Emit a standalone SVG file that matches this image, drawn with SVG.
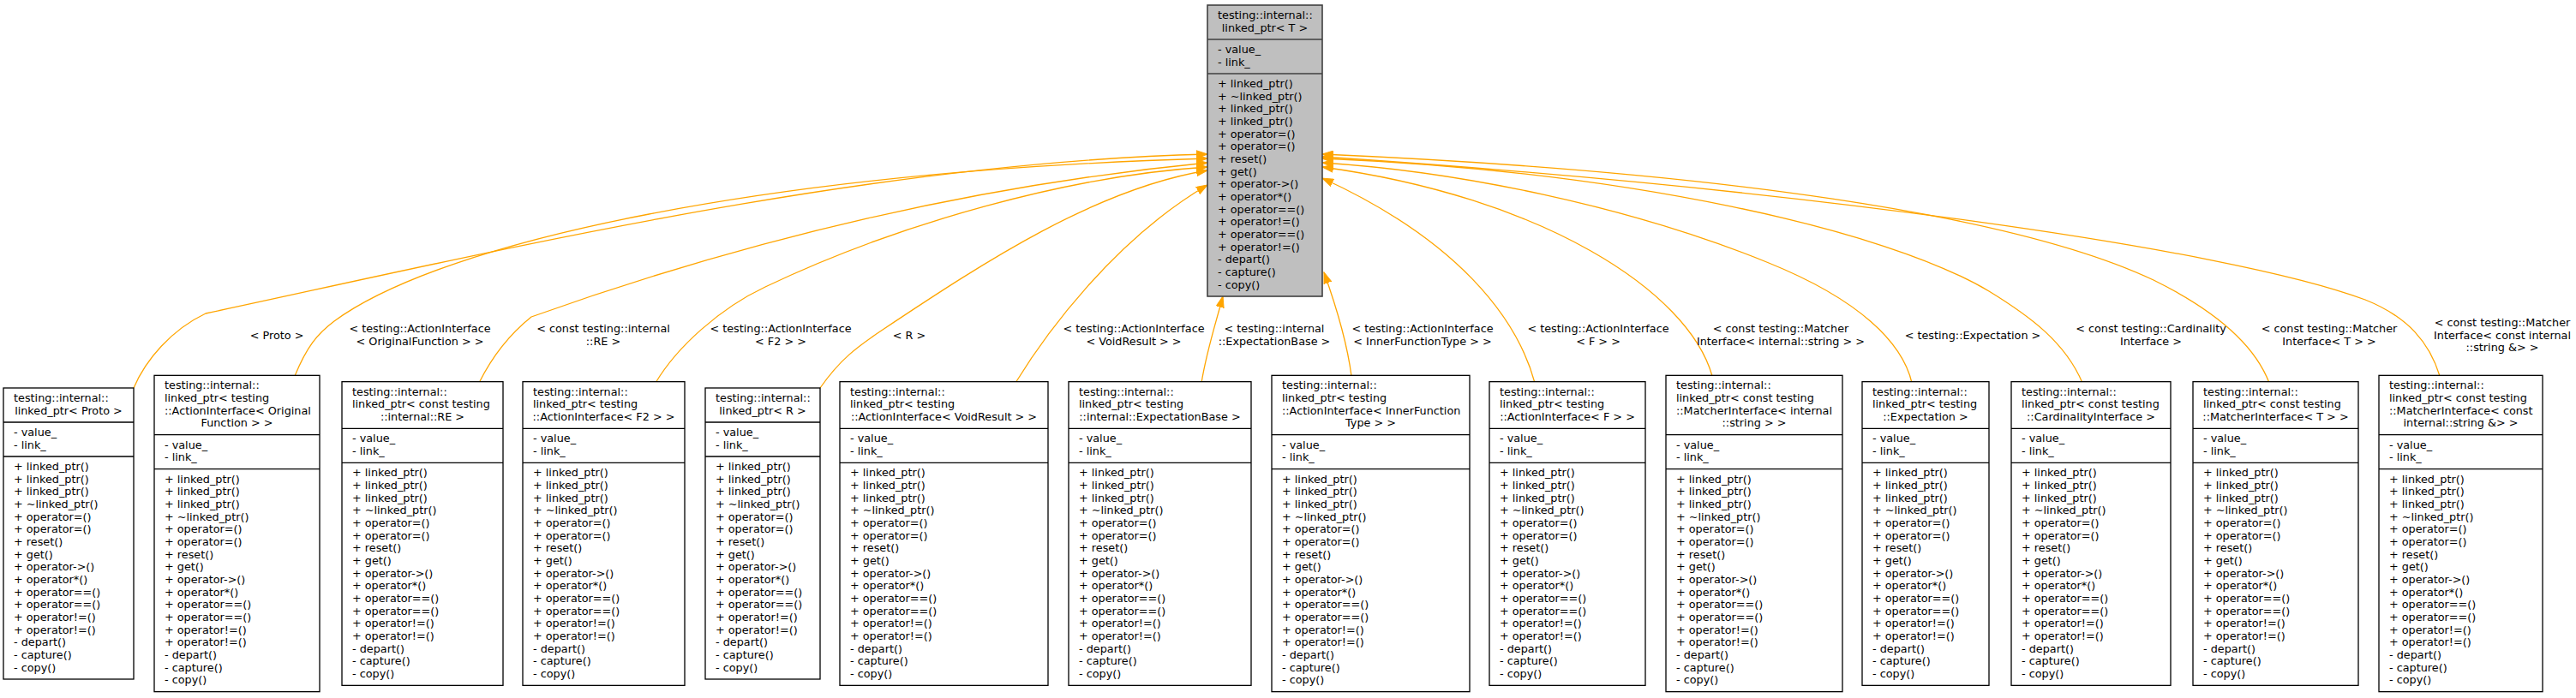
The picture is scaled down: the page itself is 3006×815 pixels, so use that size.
<svg xmlns="http://www.w3.org/2000/svg" width="3006" height="815" viewBox="0 0 3006 815">
<style>
text{font-family:"DejaVu Sans","Liberation Sans",sans-serif;font-size:12.8px;fill:#000}
.c{text-anchor:middle}
.box{fill:#fff;stroke:#000;stroke-width:1.3}
.rbox{fill:#bfbfbf;stroke:#404040;stroke-width:1.6}
.sep{stroke:#000;stroke-width:1.3;fill:none}
.rsep{stroke:#404040;stroke-width:1.6;fill:none}
.e{fill:none;stroke:#ffa500;stroke-width:1.3;marker-end:url(#ah)}
</style>
<defs>
<marker id="ah" viewBox="0 0 14 10" refX="13" refY="5" markerWidth="14" markerHeight="10" markerUnits="userSpaceOnUse" orient="auto">
<path d="M0,0.4L13,5L0,9.6z" fill="#ffa500" stroke="#ffa500" stroke-width="1"/>
</marker>
</defs>
<rect width="3006" height="815" fill="#fff"/>

<g id="edges">
<path class="e" d="M156,453C170,420 200,385 240,366C550,300 1000,190 1409,180"/>
<path class="e" d="M344,439C358,405 370,390 390,375C520,280 900,200 1409,185"/>
<path class="e" d="M559,447C575,415 595,390 620,370C760,320 1050,225 1409,190"/>
<path class="e" d="M765,447C790,405 840,360 893,335C1050,260 1250,205 1409,195"/>
<path class="e" d="M957,453C980,420 1000,405 1030,385C1150,305 1280,220 1409,199"/>
<path class="e" d="M1185,447C1220,390 1300,280 1409,216"/>
<path class="e" d="M1402,447C1408,410 1418,380 1427,346"/>
<path class="e" d="M1577,439C1572,400 1560,360 1545,318"/>
<path class="e" d="M1791,447C1770,370 1700,280 1543,208"/>
<path class="e" d="M1998,439C1970,340 1800,230 1543,195"/>
<path class="e" d="M2231,447C2220,400 2170,350 2064,307C1900,240 1700,200 1543,190"/>
<path class="e" d="M2430,447C2410,400 2370,370 2321,340C2200,268 1900,200 1543,185"/>
<path class="e" d="M2648,447C2630,400 2580,360 2513,327C2350,250 2000,200 1543,180"/>
<path class="e" d="M2847,439C2835,400 2810,370 2760,350C2600,290 2100,220 1543,183"/>
<text class="c" x="323" y="396">&lt; Proto &gt;</text>
<text class="c" x="490" y="388">&lt; testing::ActionInterface<tspan x="490" dy="14.67">&lt; OriginalFunction &gt; &gt;</tspan></text>
<text class="c" x="704" y="388">&lt; const testing::internal<tspan x="704" dy="14.67">::RE &gt;</tspan></text>
<text class="c" x="911" y="388">&lt; testing::ActionInterface<tspan x="911" dy="14.67">&lt; F2 &gt; &gt;</tspan></text>
<text class="c" x="1061" y="396">&lt; R &gt;</text>
<text class="c" x="1323" y="388">&lt; testing::ActionInterface<tspan x="1323" dy="14.67">&lt; VoidResult &gt; &gt;</tspan></text>
<text class="c" x="1487" y="388">&lt; testing::internal<tspan x="1487" dy="14.67">::ExpectationBase &gt;</tspan></text>
<text class="c" x="1660" y="388">&lt; testing::ActionInterface<tspan x="1660" dy="14.67">&lt; InnerFunctionType &gt; &gt;</tspan></text>
<text class="c" x="1865" y="388">&lt; testing::ActionInterface<tspan x="1865" dy="14.67">&lt; F &gt; &gt;</tspan></text>
<text class="c" x="2078" y="388">&lt; const testing::Matcher<tspan x="2078" dy="14.67">Interface&lt; internal::string &gt; &gt;</tspan></text>
<text class="c" x="2302" y="396">&lt; testing::Expectation &gt;</text>
<text class="c" x="2510" y="388">&lt; const testing::Cardinality<tspan x="2510" dy="14.67">Interface &gt;</tspan></text>
<text class="c" x="2718" y="388">&lt; const testing::Matcher<tspan x="2718" dy="14.67">Interface&lt; T &gt; &gt;</tspan></text>
<text class="c" x="2920" y="381">&lt; const testing::Matcher<tspan x="2920" dy="14.67">Interface&lt; const internal</tspan><tspan x="2920" dy="14.67">::string &amp;&gt; &gt;</tspan></text>
</g>

<g id="root" transform="translate(1409,6)">
<rect class="rbox" width="134" height="340"/>
<path class="rsep" d="M0,40H134M0,80H134"/>
<text x="12" y="16">testing::internal::<tspan class="c" x="67" dy="14.67">linked_ptr&lt; T &gt;</tspan></text>
<text x="12" y="56">- value_<tspan x="12" dy="14.67">- link_</tspan></text>
<text x="12" y="96">+ linked_ptr()<tspan x="12" dy="14.67">+ ~linked_ptr()</tspan><tspan x="12" dy="14.67">+ linked_ptr()</tspan><tspan x="12" dy="14.67">+ linked_ptr()</tspan><tspan x="12" dy="14.67">+ operator=()</tspan><tspan x="12" dy="14.67">+ operator=()</tspan><tspan x="12" dy="14.67">+ reset()</tspan><tspan x="12" dy="14.67">+ get()</tspan><tspan x="12" dy="14.67">+ operator-&gt;()</tspan><tspan x="12" dy="14.67">+ operator*()</tspan><tspan x="12" dy="14.67">+ operator==()</tspan><tspan x="12" dy="14.67">+ operator!=()</tspan><tspan x="12" dy="14.67">+ operator==()</tspan><tspan x="12" dy="14.67">+ operator!=()</tspan><tspan x="12" dy="14.67">- depart()</tspan><tspan x="12" dy="14.67">- capture()</tspan><tspan x="12" dy="14.67">- copy()</tspan></text>
</g>

<g id="n1" transform="translate(4,453)">
<rect class="box" width="152" height="340"/>
<path class="sep" d="M0,40H152M0,80H152"/>
<text x="12" y="16">testing::internal::<tspan class="c" x="76" dy="14.67">linked_ptr&lt; Proto &gt;</tspan></text>
<text x="12" y="56">- value_<tspan x="12" dy="14.67">- link_</tspan></text>
<text x="12" y="96">+ linked_ptr()<tspan x="12" dy="14.67">+ linked_ptr()</tspan><tspan x="12" dy="14.67">+ linked_ptr()</tspan><tspan x="12" dy="14.67">+ ~linked_ptr()</tspan><tspan x="12" dy="14.67">+ operator=()</tspan><tspan x="12" dy="14.67">+ operator=()</tspan><tspan x="12" dy="14.67">+ reset()</tspan><tspan x="12" dy="14.67">+ get()</tspan><tspan x="12" dy="14.67">+ operator-&gt;()</tspan><tspan x="12" dy="14.67">+ operator*()</tspan><tspan x="12" dy="14.67">+ operator==()</tspan><tspan x="12" dy="14.67">+ operator==()</tspan><tspan x="12" dy="14.67">+ operator!=()</tspan><tspan x="12" dy="14.67">+ operator!=()</tspan><tspan x="12" dy="14.67">- depart()</tspan><tspan x="12" dy="14.67">- capture()</tspan><tspan x="12" dy="14.67">- copy()</tspan></text>
</g>

<g id="n2" transform="translate(180,438.33)">
<rect class="box" width="193" height="369.33"/>
<path class="sep" d="M0,69.33H193M0,109.33H193"/>
<text x="12" y="16">testing::internal::<tspan x="12" dy="14.67">linked_ptr&lt; testing</tspan><tspan x="12" dy="14.67">::ActionInterface&lt; Original</tspan><tspan class="c" x="96.5" dy="14.67">Function &gt; &gt;</tspan></text>
<text x="12" y="85.33">- value_<tspan x="12" dy="14.67">- link_</tspan></text>
<text x="12" y="125.33">+ linked_ptr()<tspan x="12" dy="14.67">+ linked_ptr()</tspan><tspan x="12" dy="14.67">+ linked_ptr()</tspan><tspan x="12" dy="14.67">+ ~linked_ptr()</tspan><tspan x="12" dy="14.67">+ operator=()</tspan><tspan x="12" dy="14.67">+ operator=()</tspan><tspan x="12" dy="14.67">+ reset()</tspan><tspan x="12" dy="14.67">+ get()</tspan><tspan x="12" dy="14.67">+ operator-&gt;()</tspan><tspan x="12" dy="14.67">+ operator*()</tspan><tspan x="12" dy="14.67">+ operator==()</tspan><tspan x="12" dy="14.67">+ operator==()</tspan><tspan x="12" dy="14.67">+ operator!=()</tspan><tspan x="12" dy="14.67">+ operator!=()</tspan><tspan x="12" dy="14.67">- depart()</tspan><tspan x="12" dy="14.67">- capture()</tspan><tspan x="12" dy="14.67">- copy()</tspan></text>
</g>

<g id="n3" transform="translate(399,445.67)">
<rect class="box" width="188" height="354.67"/>
<path class="sep" d="M0,54.67H188M0,94.67H188"/>
<text x="12" y="16">testing::internal::<tspan x="12" dy="14.67">linked_ptr&lt; const testing</tspan><tspan class="c" x="94" dy="14.67">::internal::RE &gt;</tspan></text>
<text x="12" y="70.67">- value_<tspan x="12" dy="14.67">- link_</tspan></text>
<text x="12" y="110.67">+ linked_ptr()<tspan x="12" dy="14.67">+ linked_ptr()</tspan><tspan x="12" dy="14.67">+ linked_ptr()</tspan><tspan x="12" dy="14.67">+ ~linked_ptr()</tspan><tspan x="12" dy="14.67">+ operator=()</tspan><tspan x="12" dy="14.67">+ operator=()</tspan><tspan x="12" dy="14.67">+ reset()</tspan><tspan x="12" dy="14.67">+ get()</tspan><tspan x="12" dy="14.67">+ operator-&gt;()</tspan><tspan x="12" dy="14.67">+ operator*()</tspan><tspan x="12" dy="14.67">+ operator==()</tspan><tspan x="12" dy="14.67">+ operator==()</tspan><tspan x="12" dy="14.67">+ operator!=()</tspan><tspan x="12" dy="14.67">+ operator!=()</tspan><tspan x="12" dy="14.67">- depart()</tspan><tspan x="12" dy="14.67">- capture()</tspan><tspan x="12" dy="14.67">- copy()</tspan></text>
</g>

<g id="n4" transform="translate(610,445.67)">
<rect class="box" width="189" height="354.67"/>
<path class="sep" d="M0,54.67H189M0,94.67H189"/>
<text x="12" y="16">testing::internal::<tspan x="12" dy="14.67">linked_ptr&lt; testing</tspan><tspan class="c" x="94.5" dy="14.67">::ActionInterface&lt; F2 &gt; &gt;</tspan></text>
<text x="12" y="70.67">- value_<tspan x="12" dy="14.67">- link_</tspan></text>
<text x="12" y="110.67">+ linked_ptr()<tspan x="12" dy="14.67">+ linked_ptr()</tspan><tspan x="12" dy="14.67">+ linked_ptr()</tspan><tspan x="12" dy="14.67">+ ~linked_ptr()</tspan><tspan x="12" dy="14.67">+ operator=()</tspan><tspan x="12" dy="14.67">+ operator=()</tspan><tspan x="12" dy="14.67">+ reset()</tspan><tspan x="12" dy="14.67">+ get()</tspan><tspan x="12" dy="14.67">+ operator-&gt;()</tspan><tspan x="12" dy="14.67">+ operator*()</tspan><tspan x="12" dy="14.67">+ operator==()</tspan><tspan x="12" dy="14.67">+ operator==()</tspan><tspan x="12" dy="14.67">+ operator!=()</tspan><tspan x="12" dy="14.67">+ operator!=()</tspan><tspan x="12" dy="14.67">- depart()</tspan><tspan x="12" dy="14.67">- capture()</tspan><tspan x="12" dy="14.67">- copy()</tspan></text>
</g>

<g id="n5" transform="translate(823,453)">
<rect class="box" width="134" height="340"/>
<path class="sep" d="M0,40H134M0,80H134"/>
<text x="12" y="16">testing::internal::<tspan class="c" x="67" dy="14.67">linked_ptr&lt; R &gt;</tspan></text>
<text x="12" y="56">- value_<tspan x="12" dy="14.67">- link_</tspan></text>
<text x="12" y="96">+ linked_ptr()<tspan x="12" dy="14.67">+ linked_ptr()</tspan><tspan x="12" dy="14.67">+ linked_ptr()</tspan><tspan x="12" dy="14.67">+ ~linked_ptr()</tspan><tspan x="12" dy="14.67">+ operator=()</tspan><tspan x="12" dy="14.67">+ operator=()</tspan><tspan x="12" dy="14.67">+ reset()</tspan><tspan x="12" dy="14.67">+ get()</tspan><tspan x="12" dy="14.67">+ operator-&gt;()</tspan><tspan x="12" dy="14.67">+ operator*()</tspan><tspan x="12" dy="14.67">+ operator==()</tspan><tspan x="12" dy="14.67">+ operator==()</tspan><tspan x="12" dy="14.67">+ operator!=()</tspan><tspan x="12" dy="14.67">+ operator!=()</tspan><tspan x="12" dy="14.67">- depart()</tspan><tspan x="12" dy="14.67">- capture()</tspan><tspan x="12" dy="14.67">- copy()</tspan></text>
</g>

<g id="n6" transform="translate(980,445.67)">
<rect class="box" width="243" height="354.67"/>
<path class="sep" d="M0,54.67H243M0,94.67H243"/>
<text x="12" y="16">testing::internal::<tspan x="12" dy="14.67">linked_ptr&lt; testing</tspan><tspan class="c" x="121.5" dy="14.67">::ActionInterface&lt; VoidResult &gt; &gt;</tspan></text>
<text x="12" y="70.67">- value_<tspan x="12" dy="14.67">- link_</tspan></text>
<text x="12" y="110.67">+ linked_ptr()<tspan x="12" dy="14.67">+ linked_ptr()</tspan><tspan x="12" dy="14.67">+ linked_ptr()</tspan><tspan x="12" dy="14.67">+ ~linked_ptr()</tspan><tspan x="12" dy="14.67">+ operator=()</tspan><tspan x="12" dy="14.67">+ operator=()</tspan><tspan x="12" dy="14.67">+ reset()</tspan><tspan x="12" dy="14.67">+ get()</tspan><tspan x="12" dy="14.67">+ operator-&gt;()</tspan><tspan x="12" dy="14.67">+ operator*()</tspan><tspan x="12" dy="14.67">+ operator==()</tspan><tspan x="12" dy="14.67">+ operator==()</tspan><tspan x="12" dy="14.67">+ operator!=()</tspan><tspan x="12" dy="14.67">+ operator!=()</tspan><tspan x="12" dy="14.67">- depart()</tspan><tspan x="12" dy="14.67">- capture()</tspan><tspan x="12" dy="14.67">- copy()</tspan></text>
</g>

<g id="n7" transform="translate(1247,445.67)">
<rect class="box" width="213" height="354.67"/>
<path class="sep" d="M0,54.67H213M0,94.67H213"/>
<text x="12" y="16">testing::internal::<tspan x="12" dy="14.67">linked_ptr&lt; testing</tspan><tspan class="c" x="106.5" dy="14.67">::internal::ExpectationBase &gt;</tspan></text>
<text x="12" y="70.67">- value_<tspan x="12" dy="14.67">- link_</tspan></text>
<text x="12" y="110.67">+ linked_ptr()<tspan x="12" dy="14.67">+ linked_ptr()</tspan><tspan x="12" dy="14.67">+ linked_ptr()</tspan><tspan x="12" dy="14.67">+ ~linked_ptr()</tspan><tspan x="12" dy="14.67">+ operator=()</tspan><tspan x="12" dy="14.67">+ operator=()</tspan><tspan x="12" dy="14.67">+ reset()</tspan><tspan x="12" dy="14.67">+ get()</tspan><tspan x="12" dy="14.67">+ operator-&gt;()</tspan><tspan x="12" dy="14.67">+ operator*()</tspan><tspan x="12" dy="14.67">+ operator==()</tspan><tspan x="12" dy="14.67">+ operator==()</tspan><tspan x="12" dy="14.67">+ operator!=()</tspan><tspan x="12" dy="14.67">+ operator!=()</tspan><tspan x="12" dy="14.67">- depart()</tspan><tspan x="12" dy="14.67">- capture()</tspan><tspan x="12" dy="14.67">- copy()</tspan></text>
</g>

<g id="n8" transform="translate(1484,438.33)">
<rect class="box" width="231" height="369.33"/>
<path class="sep" d="M0,69.33H231M0,109.33H231"/>
<text x="12" y="16">testing::internal::<tspan x="12" dy="14.67">linked_ptr&lt; testing</tspan><tspan x="12" dy="14.67">::ActionInterface&lt; InnerFunction</tspan><tspan class="c" x="115.5" dy="14.67">Type &gt; &gt;</tspan></text>
<text x="12" y="85.33">- value_<tspan x="12" dy="14.67">- link_</tspan></text>
<text x="12" y="125.33">+ linked_ptr()<tspan x="12" dy="14.67">+ linked_ptr()</tspan><tspan x="12" dy="14.67">+ linked_ptr()</tspan><tspan x="12" dy="14.67">+ ~linked_ptr()</tspan><tspan x="12" dy="14.67">+ operator=()</tspan><tspan x="12" dy="14.67">+ operator=()</tspan><tspan x="12" dy="14.67">+ reset()</tspan><tspan x="12" dy="14.67">+ get()</tspan><tspan x="12" dy="14.67">+ operator-&gt;()</tspan><tspan x="12" dy="14.67">+ operator*()</tspan><tspan x="12" dy="14.67">+ operator==()</tspan><tspan x="12" dy="14.67">+ operator==()</tspan><tspan x="12" dy="14.67">+ operator!=()</tspan><tspan x="12" dy="14.67">+ operator!=()</tspan><tspan x="12" dy="14.67">- depart()</tspan><tspan x="12" dy="14.67">- capture()</tspan><tspan x="12" dy="14.67">- copy()</tspan></text>
</g>

<g id="n9" transform="translate(1738,445.67)">
<rect class="box" width="182" height="354.67"/>
<path class="sep" d="M0,54.67H182M0,94.67H182"/>
<text x="12" y="16">testing::internal::<tspan x="12" dy="14.67">linked_ptr&lt; testing</tspan><tspan class="c" x="91" dy="14.67">::ActionInterface&lt; F &gt; &gt;</tspan></text>
<text x="12" y="70.67">- value_<tspan x="12" dy="14.67">- link_</tspan></text>
<text x="12" y="110.67">+ linked_ptr()<tspan x="12" dy="14.67">+ linked_ptr()</tspan><tspan x="12" dy="14.67">+ linked_ptr()</tspan><tspan x="12" dy="14.67">+ ~linked_ptr()</tspan><tspan x="12" dy="14.67">+ operator=()</tspan><tspan x="12" dy="14.67">+ operator=()</tspan><tspan x="12" dy="14.67">+ reset()</tspan><tspan x="12" dy="14.67">+ get()</tspan><tspan x="12" dy="14.67">+ operator-&gt;()</tspan><tspan x="12" dy="14.67">+ operator*()</tspan><tspan x="12" dy="14.67">+ operator==()</tspan><tspan x="12" dy="14.67">+ operator==()</tspan><tspan x="12" dy="14.67">+ operator!=()</tspan><tspan x="12" dy="14.67">+ operator!=()</tspan><tspan x="12" dy="14.67">- depart()</tspan><tspan x="12" dy="14.67">- capture()</tspan><tspan x="12" dy="14.67">- copy()</tspan></text>
</g>

<g id="n10" transform="translate(1944,438.33)">
<rect class="box" width="206" height="369.33"/>
<path class="sep" d="M0,69.33H206M0,109.33H206"/>
<text x="12" y="16">testing::internal::<tspan x="12" dy="14.67">linked_ptr&lt; const testing</tspan><tspan x="12" dy="14.67">::MatcherInterface&lt; internal</tspan><tspan class="c" x="103" dy="14.67">::string &gt; &gt;</tspan></text>
<text x="12" y="85.33">- value_<tspan x="12" dy="14.67">- link_</tspan></text>
<text x="12" y="125.33">+ linked_ptr()<tspan x="12" dy="14.67">+ linked_ptr()</tspan><tspan x="12" dy="14.67">+ linked_ptr()</tspan><tspan x="12" dy="14.67">+ ~linked_ptr()</tspan><tspan x="12" dy="14.67">+ operator=()</tspan><tspan x="12" dy="14.67">+ operator=()</tspan><tspan x="12" dy="14.67">+ reset()</tspan><tspan x="12" dy="14.67">+ get()</tspan><tspan x="12" dy="14.67">+ operator-&gt;()</tspan><tspan x="12" dy="14.67">+ operator*()</tspan><tspan x="12" dy="14.67">+ operator==()</tspan><tspan x="12" dy="14.67">+ operator==()</tspan><tspan x="12" dy="14.67">+ operator!=()</tspan><tspan x="12" dy="14.67">+ operator!=()</tspan><tspan x="12" dy="14.67">- depart()</tspan><tspan x="12" dy="14.67">- capture()</tspan><tspan x="12" dy="14.67">- copy()</tspan></text>
</g>

<g id="n11" transform="translate(2173,445.67)">
<rect class="box" width="148" height="354.67"/>
<path class="sep" d="M0,54.67H148M0,94.67H148"/>
<text x="12" y="16">testing::internal::<tspan x="12" dy="14.67">linked_ptr&lt; testing</tspan><tspan class="c" x="74" dy="14.67">::Expectation &gt;</tspan></text>
<text x="12" y="70.67">- value_<tspan x="12" dy="14.67">- link_</tspan></text>
<text x="12" y="110.67">+ linked_ptr()<tspan x="12" dy="14.67">+ linked_ptr()</tspan><tspan x="12" dy="14.67">+ linked_ptr()</tspan><tspan x="12" dy="14.67">+ ~linked_ptr()</tspan><tspan x="12" dy="14.67">+ operator=()</tspan><tspan x="12" dy="14.67">+ operator=()</tspan><tspan x="12" dy="14.67">+ reset()</tspan><tspan x="12" dy="14.67">+ get()</tspan><tspan x="12" dy="14.67">+ operator-&gt;()</tspan><tspan x="12" dy="14.67">+ operator*()</tspan><tspan x="12" dy="14.67">+ operator==()</tspan><tspan x="12" dy="14.67">+ operator==()</tspan><tspan x="12" dy="14.67">+ operator!=()</tspan><tspan x="12" dy="14.67">+ operator!=()</tspan><tspan x="12" dy="14.67">- depart()</tspan><tspan x="12" dy="14.67">- capture()</tspan><tspan x="12" dy="14.67">- copy()</tspan></text>
</g>

<g id="n12" transform="translate(2347,445.67)">
<rect class="box" width="186" height="354.67"/>
<path class="sep" d="M0,54.67H186M0,94.67H186"/>
<text x="12" y="16">testing::internal::<tspan x="12" dy="14.67">linked_ptr&lt; const testing</tspan><tspan class="c" x="93" dy="14.67">::CardinalityInterface &gt;</tspan></text>
<text x="12" y="70.67">- value_<tspan x="12" dy="14.67">- link_</tspan></text>
<text x="12" y="110.67">+ linked_ptr()<tspan x="12" dy="14.67">+ linked_ptr()</tspan><tspan x="12" dy="14.67">+ linked_ptr()</tspan><tspan x="12" dy="14.67">+ ~linked_ptr()</tspan><tspan x="12" dy="14.67">+ operator=()</tspan><tspan x="12" dy="14.67">+ operator=()</tspan><tspan x="12" dy="14.67">+ reset()</tspan><tspan x="12" dy="14.67">+ get()</tspan><tspan x="12" dy="14.67">+ operator-&gt;()</tspan><tspan x="12" dy="14.67">+ operator*()</tspan><tspan x="12" dy="14.67">+ operator==()</tspan><tspan x="12" dy="14.67">+ operator==()</tspan><tspan x="12" dy="14.67">+ operator!=()</tspan><tspan x="12" dy="14.67">+ operator!=()</tspan><tspan x="12" dy="14.67">- depart()</tspan><tspan x="12" dy="14.67">- capture()</tspan><tspan x="12" dy="14.67">- copy()</tspan></text>
</g>

<g id="n13" transform="translate(2559,445.67)">
<rect class="box" width="193" height="354.67"/>
<path class="sep" d="M0,54.67H193M0,94.67H193"/>
<text x="12" y="16">testing::internal::<tspan x="12" dy="14.67">linked_ptr&lt; const testing</tspan><tspan class="c" x="96.5" dy="14.67">::MatcherInterface&lt; T &gt; &gt;</tspan></text>
<text x="12" y="70.67">- value_<tspan x="12" dy="14.67">- link_</tspan></text>
<text x="12" y="110.67">+ linked_ptr()<tspan x="12" dy="14.67">+ linked_ptr()</tspan><tspan x="12" dy="14.67">+ linked_ptr()</tspan><tspan x="12" dy="14.67">+ ~linked_ptr()</tspan><tspan x="12" dy="14.67">+ operator=()</tspan><tspan x="12" dy="14.67">+ operator=()</tspan><tspan x="12" dy="14.67">+ reset()</tspan><tspan x="12" dy="14.67">+ get()</tspan><tspan x="12" dy="14.67">+ operator-&gt;()</tspan><tspan x="12" dy="14.67">+ operator*()</tspan><tspan x="12" dy="14.67">+ operator==()</tspan><tspan x="12" dy="14.67">+ operator==()</tspan><tspan x="12" dy="14.67">+ operator!=()</tspan><tspan x="12" dy="14.67">+ operator!=()</tspan><tspan x="12" dy="14.67">- depart()</tspan><tspan x="12" dy="14.67">- capture()</tspan><tspan x="12" dy="14.67">- copy()</tspan></text>
</g>

<g id="n14" transform="translate(2776,438.33)">
<rect class="box" width="191" height="369.33"/>
<path class="sep" d="M0,69.33H191M0,109.33H191"/>
<text x="12" y="16">testing::internal::<tspan x="12" dy="14.67">linked_ptr&lt; const testing</tspan><tspan x="12" dy="14.67">::MatcherInterface&lt; const</tspan><tspan class="c" x="95.5" dy="14.67">internal::string &amp;&gt; &gt;</tspan></text>
<text x="12" y="85.33">- value_<tspan x="12" dy="14.67">- link_</tspan></text>
<text x="12" y="125.33">+ linked_ptr()<tspan x="12" dy="14.67">+ linked_ptr()</tspan><tspan x="12" dy="14.67">+ linked_ptr()</tspan><tspan x="12" dy="14.67">+ ~linked_ptr()</tspan><tspan x="12" dy="14.67">+ operator=()</tspan><tspan x="12" dy="14.67">+ operator=()</tspan><tspan x="12" dy="14.67">+ reset()</tspan><tspan x="12" dy="14.67">+ get()</tspan><tspan x="12" dy="14.67">+ operator-&gt;()</tspan><tspan x="12" dy="14.67">+ operator*()</tspan><tspan x="12" dy="14.67">+ operator==()</tspan><tspan x="12" dy="14.67">+ operator==()</tspan><tspan x="12" dy="14.67">+ operator!=()</tspan><tspan x="12" dy="14.67">+ operator!=()</tspan><tspan x="12" dy="14.67">- depart()</tspan><tspan x="12" dy="14.67">- capture()</tspan><tspan x="12" dy="14.67">- copy()</tspan></text>
</g>
</svg>
